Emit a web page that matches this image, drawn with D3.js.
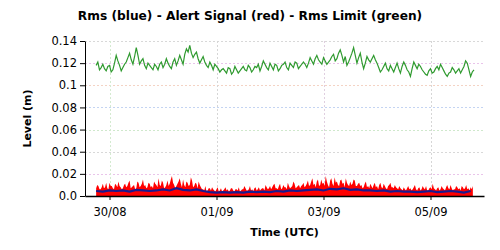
<!DOCTYPE html>
<html>
<head>
<meta charset="utf-8">
<script src="https://cdn.jsdelivr.net/npm/d3@7"></script>
<style>
  body { margin: 0; background: #fff; }
  text { font-family: "DejaVu Sans", Verdana, sans-serif; }
</style>
</head>
<body>
<svg width="500" height="250"></svg>
<script>
// series start time (UTC) and sampling steps in hours
const startTime = new Date(Date.UTC(2023, 7, 29, 18));
const rmsStep = 3, alertStep = 0.5, limitStep = 0.75;

// Rms (blue), m
const rmsValues = [0.0045,0.004,0.005,0.0045,0.005,0.004,0.0055,0.005,0.0045,
  0.005,0.006,0.005,0.007,0.0055,0.005,0.006,0.0045,
  0.0035,0.003,0.0035,0.003,0.0035,0.003,0.004,0.0035,
  0.004,0.0035,0.0045,0.004,0.005,0.0045,0.005,
  0.0055,0.006,0.005,0.0065,0.006,0.007,0.0055,0.006,0.005,
  0.005,0.0045,0.005,0.004,0.0045,0.004,
  0.004,0.0035,0.004,0.0045,0.0035,0.004,0.0045,0.004,0.003,0.0045];

// Alert Signal (red), mm
const alertValues = [
  7,10,9,6,6,8,11,7,8,12,7,6,12,9,9,7,6,11,10,8,13,9,8,6,7,10,11,8,9,12,14,7,8,9,10,6,7,13,12,8,9,11,15,9,10,7,8,12,11,8,
  9,7,13,11,10,8,16,10,9,14,12,7,8,10,14,9,11,15,18,12,10,7,9,11,13,16,11,8,15,10,8,13,12,9,10,17,14,8,9,12,11,7,13,10,8,6,
  6,5,9,4,5,7,7,5,8,6,5,4,6,8,4,5,7,4,5,6,8,5,6,4,5,7,7,5,4,6,6,5,8,4,5,6,6,9,7,5,5,6,9,5,6,4,7,8,5,6,8,5,6,7,
  7,5,10,8,6,7,9,6,8,10,11,7,7,6,9,11,6,7,10,8,8,6,12,9,7,8,9,13,11,7,8,9,10,7,9,10,
  12,8,9,11,14,9,10,13,16,10,11,8,13,15,9,10,15,11,12,9,18,13,10,8,14,16,11,9,17,12,13,10,9,14,15,11,12,8,16,12,10,9,13,10,11,15,14,9,9,11,12,9,
  10,7,8,11,13,8,9,7,11,9,7,10,12,8,9,6,10,12,8,7,11,9,7,6,9,10,12,8,8,7,10,8,7,6,9,7,
  6,5,8,6,5,7,9,6,7,5,6,8,10,6,5,7,8,5,6,9,7,6,9,5,5,7,8,6,11,7,6,5,7,8,5,6,9,7,6,5,8,10,7,6,10,7,5,6,6,9,8,6,7,5,9,8,6,7,10,6,7,5,8,6,9];

// Rms Limit (green), m
const limitValues = [
  0.118,0.121,0.114,0.116,0.119,0.115,0.113,0.117,0.118,0.112,0.114,0.120,0.127,0.122,0.118,0.113,0.116,0.119,0.121,0.125,
  0.129,0.123,0.119,0.126,0.134,0.127,0.119,0.122,0.124,0.118,0.115,0.120,0.118,0.116,0.114,0.119,0.117,0.114,0.119,0.121,
  0.116,0.119,0.124,0.120,0.117,0.115,0.121,0.124,0.118,0.122,0.127,0.123,0.119,0.128,0.133,0.130,0.136,0.129,0.125,0.128,
  0.130,0.124,0.120,0.123,0.126,0.121,0.118,0.116,0.121,0.118,0.114,0.119,0.117,0.115,0.112,0.114,0.115,0.113,0.111,0.116,
  0.115,0.110,0.112,0.117,0.114,0.111,0.113,0.115,0.117,0.114,0.113,0.118,0.116,0.112,0.114,0.117,0.116,0.119,0.113,0.117,
  0.122,0.119,0.116,0.114,0.120,0.117,0.114,0.119,0.118,0.113,0.115,0.118,0.119,0.121,0.116,0.114,0.120,0.118,0.116,0.121,
  0.120,0.115,0.117,0.119,0.121,0.119,0.116,0.120,0.125,0.122,0.119,0.124,0.127,0.123,0.121,0.119,0.125,0.122,0.119,0.121,
  0.123,0.126,0.128,0.122,0.124,0.129,0.132,0.127,0.121,0.126,0.118,0.121,0.125,0.129,0.134,0.127,0.120,0.125,0.129,0.121,
  0.115,0.120,0.126,0.123,0.121,0.124,0.127,0.123,0.120,0.116,0.112,0.114,0.117,0.120,0.115,0.113,0.118,0.115,0.112,0.116,
  0.120,0.115,0.111,0.117,0.121,0.118,0.114,0.112,0.108,0.115,0.121,0.118,0.115,0.119,0.117,0.114,0.112,0.110,0.109,0.113,
  0.115,0.111,0.112,0.115,0.117,0.114,0.119,0.116,0.113,0.110,0.108,0.111,0.112,0.116,0.114,0.111,0.113,0.115,0.111,0.114,
  0.117,0.122,0.120,0.114,0.108,0.112,0.114];

const yTicks = [0, 0.02, 0.04, 0.06, 0.08, 0.1, 0.12, 0.14];
const yTickLabels = ['0.0','0.02','0.04','0.06','0.08','0.1','0.12','0.14'];
const xTicks = [new Date(Date.UTC(2023,7,30)), new Date(Date.UTC(2023,8,1)),
  new Date(Date.UTC(2023,8,3)), new Date(Date.UTC(2023,8,5))];
const hGridColors = ['#d8d8d8','#e9c4ea','#f4d3c4','#c4d4f2','#cfe8cc'];
const vGridColors = ['#d4ead0','#d6d6d6','#e0cfe0','#d6d6d6'];

const hour = 3600 * 1000;
const toPoints = (vals, step, k) => vals.map((v, i) => ({t: new Date(+startTime + i * step * hour), v: v * k}));
const rms = toPoints(rmsValues, rmsStep, 1);
const alert = toPoints(alertValues, alertStep, 0.001);
const limit = toPoints(limitValues, limitStep, 1);

const svg = d3.select('svg');
const margin = {left: 85, right: 16, top: 41, bottom: 54};
const W = 500, H = 250;

const x = d3.scaleUtc()
  .domain([new Date(Date.UTC(2023,7,29,13)), new Date(Date.UTC(2023,8,6,0))])
  .range([margin.left, W - margin.right]);
const y = d3.scaleLinear().domain([0, 0.14]).range([H - margin.bottom, margin.top]);

// grid
svg.append('g').selectAll('line').data(yTicks.slice(1)).enter().append('line')
  .attr('x1', margin.left).attr('x2', W - margin.right)
  .attr('y1', d => Math.round(y(d)) + 0.5).attr('y2', d => Math.round(y(d)) + 0.5)
  .attr('stroke', (d, i) => hGridColors[(yTicks.length - 2 - i) % hGridColors.length])
  .attr('stroke-dasharray', '2,2');

svg.append('g').selectAll('line').data(xTicks).enter().append('line')
  .attr('x1', d => Math.round(x(d)) + 0.5).attr('x2', d => Math.round(x(d)) + 0.5)
  .attr('y1', margin.top).attr('y2', H - margin.bottom)
  .attr('stroke', (d, i) => vGridColors[i])
  .attr('stroke-dasharray', '2,2');

// alert signal area
svg.append('path').datum(alert)
  .attr('fill', '#ff0000')
  .attr('d', d3.area().x(d => x(d.t)).y0(y(0)).y1(d => y(d.v)));

// rms line
svg.append('path').datum(rms)
  .attr('fill', 'none').attr('stroke', '#1a1a8e').attr('stroke-width', 2.2)
  .attr('d', d3.line().x(d => x(d.t)).y(d => y(d.v)));

// rms limit line
svg.append('path').datum(limit)
  .attr('fill', 'none').attr('stroke', '#2f9a2f').attr('stroke-width', 1.2)
  .attr('d', d3.line().x(d => x(d.t)).y(d => y(d.v)));

// axes
const yAxis = svg.append('g').attr('transform', `translate(${margin.left},0)`)
  .call(d3.axisLeft(y).tickValues(yTicks).tickFormat((d, i) => yTickLabels[i]).tickSize(5).tickSizeOuter(0));
const xAxis = svg.append('g').attr('transform', `translate(0,${H - margin.bottom})`)
  .call(d3.axisBottom(x).tickValues(xTicks).tickFormat(d3.utcFormat('%d/%m')).tickSize(4).tickSizeOuter(0));
[yAxis, xAxis].forEach(g => {
  g.select('.domain').attr('stroke', '#000');
  g.selectAll('.tick line').attr('stroke', '#000');
  g.selectAll('.tick text').attr('fill', '#000').style('font-size', '11.5px')
    .style('font-family', '"DejaVu Sans", Verdana, sans-serif');
});
xAxis.select('.domain').attr('stroke-width', 1.5);
xAxis.selectAll('.tick text').attr('dy', '1.1em');

// titles
svg.append('text').attr('x', 250).attr('y', 20).attr('text-anchor', 'middle')
  .style('font-size', '12.2px').style('font-weight', 'bold')
  .text('Rms (blue) - Alert Signal (red) - Rms Limit (green)');
svg.append('text').attr('x', (margin.left + W - margin.right) / 2).attr('y', 236)
  .attr('text-anchor', 'middle').style('font-size', '11px').style('font-weight', 'bold')
  .text('Time (UTC)');
svg.append('text').attr('transform', `translate(31,${(margin.top + H - margin.bottom) / 2}) rotate(-90)`)
  .attr('text-anchor', 'middle').style('font-size', '11px').style('font-weight', 'bold')
  .text('Level (m)');
</script>
</body>
</html>
